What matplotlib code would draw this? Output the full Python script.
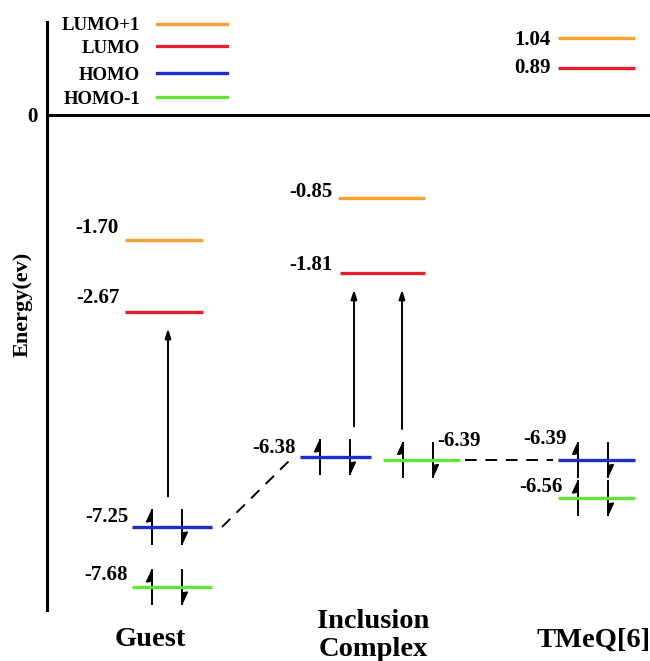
import numpy as np
import matplotlib
matplotlib.use("Agg")
import matplotlib.pyplot as plt
import matplotlib.transforms as mtransforms
from matplotlib.patches import Polygon
from matplotlib.lines import Line2D

# --- data ---
columns = ["Guest", "Inclusion\nComplex", "TMeQ[6]"]
orbitals = ["LUMO+1", "LUMO", "HOMO", "HOMO-1"]
guest_e = [-1.70, -2.67, -7.25, -7.68]
complex_e = [-0.85, -1.81, -6.38, -6.39]
tmeq_e = [1.04, 0.89, -6.39, -6.56]
colors = ["#F4A032", "#E4202E", "#1C2DC8", "#62E23A"]

# --- layout (x in "pixel" units of the drawing) ---
level_x = [
    [(125, 203), (125, 203), (132, 212), (132, 212)],
    [(338, 425), (340, 425), (300, 371), (383, 460)],
    [(558, 635), (558, 635), (558, 635), (558, 635)],
]
col_x = [150, 373, 594]
# label placement per level: (side, dx px, dy px)
label_pos = [
    [("l", -6, 7), ("l", -5, 9), ("l", -4, 5), ("l", -4, 7)],
    [("l", -6, 1), ("l", -7, 3), ("l", -4, 4), ("r", -23, 14)],
    [("l", -7, -7), ("l", -7, -5), ("l", 9, 15), ("l", 5, 6)],
]
# excitations: (column, from orbital, to orbital, x)
excitations = [(0, 2, 1, 168), (1, 2, 1, 354), (1, 3, 1, 402)]

# schematic (not to scale) energy axis: break points energy -> drawing row
axis_e = [-8.0, -7.68, -7.25, -6.56, -6.39, -6.38, -2.67, -1.81, -1.70, -0.85, 0.0, 0.89, 1.04, 1.30]
axis_row = [610, 587, 527, 498, 459.5, 457, 312, 273, 240, 198, 115, 68, 38, 22]
axis_row_neg = -np.array(axis_row, dtype=float)


def fwd(e):
    return np.interp(e, axis_e, axis_row_neg)


def inv(v):
    return np.interp(v, axis_row_neg, axis_e)


plt.rcParams["font.family"] = ["Liberation Serif", "DejaVu Serif"]
plt.rcParams["font.weight"] = "bold"

fig = plt.figure(figsize=(6.5, 6.61), dpi=100)
ax = fig.add_axes([47 / 650, 51 / 661, 603 / 650, 588 / 661])
ax.set_yscale("function", functions=(fwd, inv))
ax.set_ylim(-8.0, 1.30)
ax.set_xlim(47, 650)

for s in ["top", "right", "bottom"]:
    ax.spines[s].set_visible(False)
ax.spines["left"].set_linewidth(2.2)
ax.set_xticks([])
ax.set_yticks([0])
ax.set_yticklabels(["0"], fontsize=15, fontweight="bold")
ax.tick_params(axis="y", length=0, pad=7)
ax.axhline(0, color="black", lw=2.2)

ax.text(-0.040, 0.52, "Energy(ev)", transform=ax.transAxes, rotation=90,
        ha="center", va="center", fontsize=16, fontweight="bold")


def spin(x, e, up):
    tr = fig.dpi_scale_trans + mtransforms.ScaledTranslation(x, e, ax.transData)
    ax.add_line(Line2D([0, 0], [-0.17, 0.17], color="black", lw=1.4,
                       transform=tr, clip_on=False))
    if up:
        pts = [(0, 0.17), (-0.055, 0.05), (0, 0.06)]
    else:
        pts = [(0, -0.17), (0.055, -0.05), (0, -0.06)]
    ax.add_patch(Polygon(pts, closed=True, color="black", transform=tr, clip_on=False))


all_e = [guest_e, complex_e, tmeq_e]
for c, energies in enumerate(all_e):
    for k, e in enumerate(energies):
        x0, x1 = level_x[c][k]
        ax.plot([x0, x1], [e, e], color=colors[k], lw=2.4, solid_capstyle="butt", zorder=3)
        side, dx, dy = label_pos[c][k]
        ax.annotate(f"{e:.2f}", xy=(x0 if side == "l" else x1, e),
                    xytext=(dx * 0.72, dy * 0.72), textcoords="offset points",
                    ha="right" if side == "l" else "left", va="baseline",
                    fontsize=15, fontweight="bold")
        if k >= 2:
            spin(x0 + 20, e, True)
            spin(x0 + 50, e, False)

for c, k0, k1, x in excitations:
    ax.annotate("", xy=(x, all_e[c][k1]), xytext=(x, all_e[c][k0]),
                arrowprops=dict(arrowstyle="-|>,head_length=0.55,head_width=0.18",
                                color="black", lw=1.4, shrinkA=22, shrinkB=12))

# dashed correlation lines
ax.plot([level_x[0][2][1] + 10, level_x[1][2][0] - 7], [guest_e[2], complex_e[2]],
        color="black", lw=1.4, ls=(0, (6, 4.5)))
ax.plot([level_x[1][3][1] + 5, level_x[2][2][0] - 5], [complex_e[3], tmeq_e[2]],
        color="black", lw=1.4, ls=(0, (6, 4.5)))

# legend
blend = mtransforms.blended_transform_factory(ax.transData, ax.transAxes)
leg_y = [0.9966, 0.959, 0.913, 0.872]
for k, name in enumerate(orbitals):
    ax.add_line(Line2D([157, 227], [leg_y[k], leg_y[k]], color=colors[k], lw=2.4,
                       transform=blend, clip_on=False))
    ax.text(140, leg_y[k] - 0.011, name, transform=blend, ha="right", va="baseline",
            fontsize=13.5, fontweight="bold")

# column names
for c, name in enumerate(columns):
    ax.text(col_x[c], -0.051 if "\n" not in name else -0.044, name, transform=blend,
            ha="center", va="center", fontsize=20.5, fontweight="bold", linespacing=1.15)

fig.savefig("out.png", dpi=100)
